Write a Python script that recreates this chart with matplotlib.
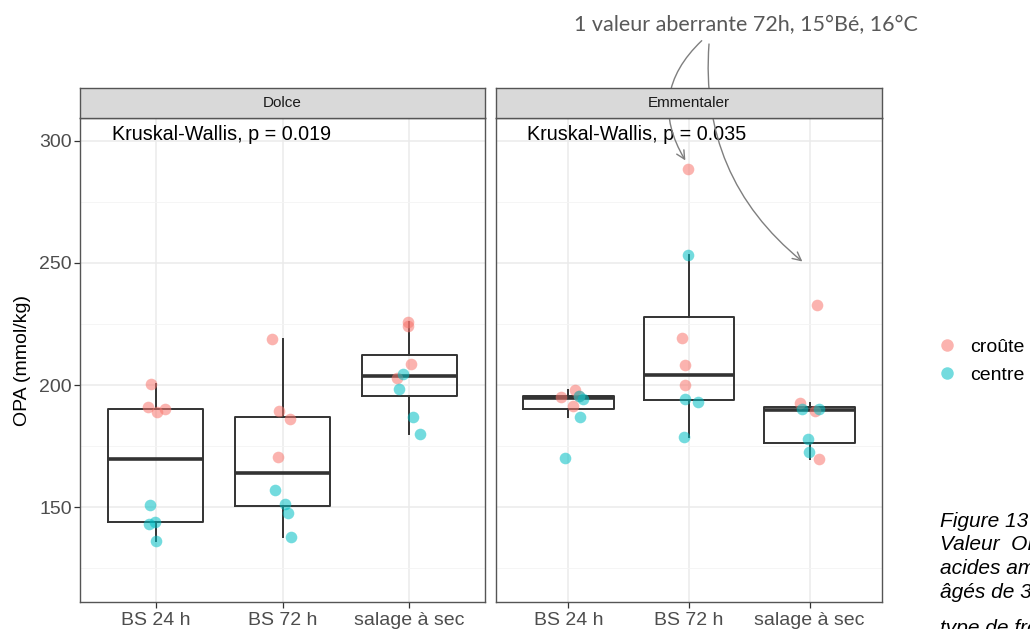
import numpy as np
import matplotlib.pyplot as plt

# Valeurs OPA (mmol/kg) par fromage, traitement de salage et zone de prélèvement
traitements = ["BS 24 h", "BS 72 h", "salage à sec"]
fromages = ["Dolce", "Emmentaler"]
p_values = ["0.019", "0.035"]

dolce_croute = [[200.3, 191.1, 188.9, 190.0],
                [218.7, 189.3, 185.9, 170.5],
                [225.8, 224.2, 208.5, 202.9]]
dolce_centre = [[150.7, 143.2, 144.0, 136.1],
                [157.0, 151.2, 147.4, 137.7],
                [204.7, 198.2, 186.9, 180.1]]
emm_croute = [[197.9, 195.0, 195.6, 191.4],
              [288.7, 219.4, 208.1, 200.0],
              [232.8, 192.8, 189.3, 169.5]]
emm_centre = [[194.4, 186.9, 170.2, 195.3],
              [253.3, 194.1, 193.0, 178.9],
              [190.3, 190.3, 177.7, 172.5]]

# décalages horizontaux du jitter (en unités de catégorie)
jit_dolce_croute = [[-0.04, -0.06, 0.01, 0.07], [-0.08, -0.025, 0.06, -0.035], [-0.01, -0.005, 0.015, -0.095]]
jit_dolce_centre = [[-0.045, -0.055, -0.01, 0.0], [-0.06, 0.02, 0.045, 0.07], [-0.05, -0.08, 0.03, 0.09]]
jit_emm_croute = [[0.055, -0.06, 0.09, 0.04], [-0.01, -0.055, -0.035, -0.03], [0.06, -0.08, 0.045, 0.08]]
jit_emm_centre = [[0.12, 0.1, -0.03, 0.09], [-0.005, -0.035, 0.075, -0.04], [-0.06, 0.08, -0.015, -0.005]]

panels = [
    (dolce_croute, dolce_centre, jit_dolce_croute, jit_dolce_centre),
    (emm_croute, emm_centre, jit_emm_croute, jit_emm_centre),
]

ROUGE = "#F8766D"
CYAN = "#00BFC4"
GRIS = "#333333"

plt.rcParams["font.family"] = ["Liberation Sans", "DejaVu Sans"]

W, H = 1030, 629
fig = plt.figure(figsize=(W / 100, H / 100), dpi=100)

def fx(px):
    return px / W

def fy(py):
    return 1 - py / H

# positions des panneaux (pixels)
panneaux_x = [(80, 485), (496, 882)]
haut, bas, strip_haut = 118, 602, 88

axes = []
for i, (x0, x1) in enumerate(panneaux_x):
    ax = fig.add_axes([fx(x0), fy(bas), fx(x1 - x0), (bas - haut) / H])
    croute, centre, jc, jn = panels[i]

    groupes = [croute[k] + centre[k] for k in range(3)]
    ax.boxplot(groupes, positions=[1, 2, 3], widths=0.75, whis=1.5,
               showfliers=False, showcaps=False,
               boxprops=dict(color=GRIS, lw=1.4),
               whiskerprops=dict(color=GRIS, lw=1.4),
               medianprops=dict(color=GRIS, lw=2.6))

    for k in range(3):
        ax.scatter(np.array(jc[k]) + k + 1, croute[k], s=70, color=ROUGE,
                   alpha=0.55, lw=0, zorder=3)
        ax.scatter(np.array(jn[k]) + k + 1, centre[k], s=70, color=CYAN,
                   alpha=0.55, lw=0, zorder=3)

    # grille type theme_bw
    ax.set_xlim(0.4, 3.6)
    ax.set_ylim(111.1, 309.4)
    ax.set_yticks([150, 200, 250, 300])
    ax.set_yticks([125, 175, 225, 275], minor=True)
    ax.set_xticks([1, 2, 3])
    ax.set_xticklabels(traitements)
    ax.grid(True, which="major", color="#EBEBEB", lw=1.1)
    ax.grid(True, which="minor", axis="y", color="#F4F4F4", lw=0.6)
    ax.set_axisbelow(True)

    ax.text(0.655, 302.7, f"Kruskal-Wallis, p = {p_values[i]}", fontsize=14.2,
            color="black", va="center", ha="left")

    for s in ax.spines.values():
        s.set_color("#555555")
        s.set_linewidth(1.0)
    ax.tick_params(axis="x", length=4, width=0.9, color=GRIS, labelsize=14,
                   labelcolor="#4D4D4D", pad=3)
    ax.tick_params(axis="y", which="major", length=4, width=0.9, color=GRIS,
                   labelsize=14, labelcolor="#4D4D4D", pad=2)
    ax.tick_params(axis="y", which="minor", length=0)
    if i == 1:
        ax.tick_params(axis="y", which="major", length=0, labelleft=False)

    # bandeau du facet
    sax = fig.add_axes([fx(x0), fy(haut), fx(x1 - x0), (haut - strip_haut) / H])
    sax.set_facecolor("#D9D9D9")
    sax.set_xticks([])
    sax.set_yticks([])
    for s in sax.spines.values():
        s.set_color("#555555")
        s.set_linewidth(1.0)
    sax.text(0.5, 0.5, fromages[i], ha="center", va="center", fontsize=11,
             color="#1A1A1A", transform=sax.transAxes)
    axes.append(ax)

axes[0].set_ylabel("OPA (mmol/kg)", fontsize=14, color="black", labelpad=6)

# légende
h1 = plt.Line2D([], [], ls="", marker="o", ms=9, color=ROUGE, alpha=0.55, mec="none")
h2 = plt.Line2D([], [], ls="", marker="o", ms=9, color=CYAN, alpha=0.55, mec="none")
fig.legend([h1, h2], ["croûte", "centre"], loc="center left",
           bbox_to_anchor=(fx(918), fy(361)), frameon=False, fontsize=14,
           handlelength=1.2, handletextpad=0.6, labelspacing=0.55)

# annotation de la valeur aberrante
fig.text(fx(746), fy(25), "1 valeur aberrante 72h, 15°Bé, 16°C", family="Lato",
         fontsize=15.5, color="#595959", ha="center", va="center")
fleche = dict(arrowstyle="->,head_length=0.6,head_width=0.3", color="#7F7F7F", lw=1.0,
              shrinkA=0, shrinkB=0)
axes[1].annotate("", xy=(1.97, 292.0), xycoords="data",
                 xytext=(701.7, H - 40.7), textcoords="figure pixels",
                 arrowprops=dict(fleche, connectionstyle="arc3,rad=0.4"),
                 annotation_clip=False, zorder=10)
axes[1].annotate("", xy=(2.94, 250.6), xycoords="data",
                 xytext=(709, H - 44), textcoords="figure pixels",
                 arrowprops=dict(fleche, connectionstyle="arc3,rad=0.26"),
                 annotation_clip=False, zorder=10)

# légende de figure (texte justifié), coupée au bord droit
legende = ["Figure 13 : ", "Valeur  OPA (teneur en", "acides aminés libres)",
           "âgés de 3 mois selon le", "type de fromage"]
lignes_y = [527, 550.5, 574, 597.5, 634]
for ligne, yb in zip(legende, lignes_y):
    fig.text(fx(940), fy(yb), ligne, fontsize=15, style="italic",
             color="black", ha="left", va="baseline")

fig.savefig("out.png", dpi=100)
